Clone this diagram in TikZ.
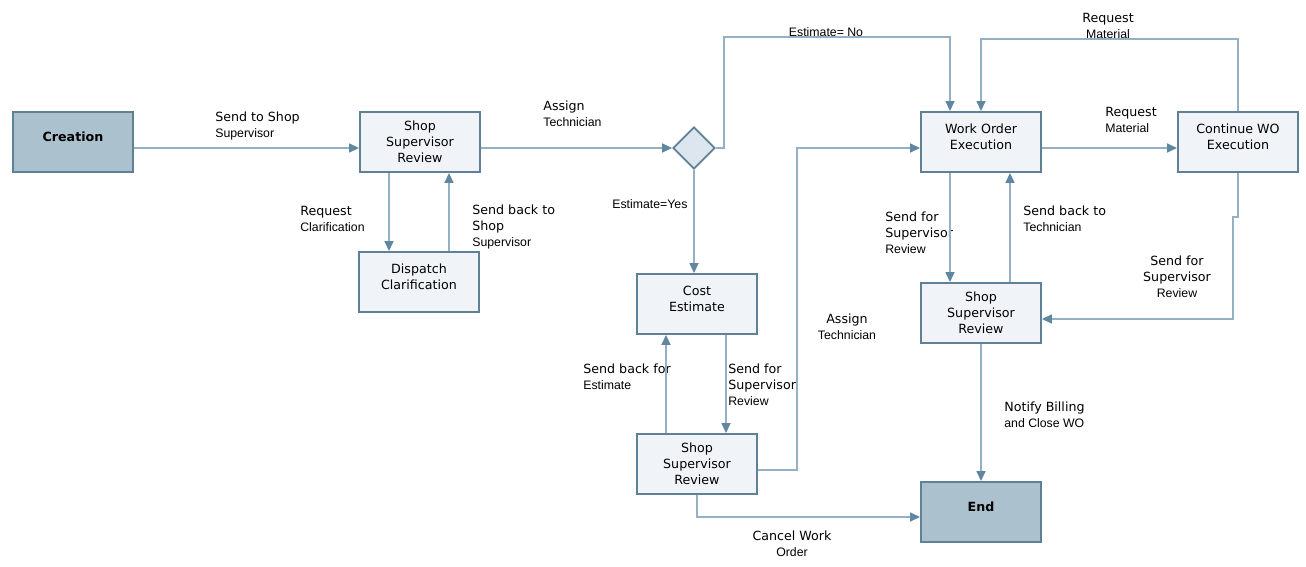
\documentclass[tikz,border=0pt]{standalone}
\usepackage{fontspec}
\setmainfont{DejaVu Sans}
\newfontfamily\arl{Liberation Sans}
\usetikzlibrary{shapes.geometric,arrows.meta,calc}
\definecolor{lineblue}{HTML}{94B0C2}
\definecolor{headblue}{HTML}{5F87A0}
\definecolor{boxedge}{HTML}{5E8195}
\definecolor{boxfill}{HTML}{F0F4F9}
\definecolor{termfill}{HTML}{ABC2CE}
\definecolor{decfill}{HTML}{DDE6EE}
\newcommand{\sm}[1]{{\arl\fontsize{7}{9}\selectfont #1}}

\tikzset{
	box/.style={draw=boxedge, line width=1.1pt, fill=boxfill, minimum width=2.4cm, minimum height=1.2cm, align=center, inner sep=1pt, font=\fontsize{7.2}{9}\selectfont},
	raised/.style={text depth=0.21cm},
	term/.style={box, raised, fill=termfill, font=\fontsize{7.2}{9}\selectfont\bfseries},
	decision/.style={diamond, draw=boxedge, line width=1pt, fill=decfill, minimum width=0.84cm, minimum height=0.84cm, inner sep=0pt},
	flow/.style={draw=lineblue, line width=0.9pt, -{Triangle[length=0.2cm, width=0.18cm, color=headblue]}},
	lbl/.style={align=left, inner sep=0pt, anchor=north west, font=\fontsize{7.2}{9}\selectfont},
	clbl/.style={lbl, align=center, anchor=north},
}

\begin{document}
\begin{tikzpicture}[x=0.02cm, y=-0.02cm]
		\useasboundingbox (0,0) rectangle (1306,567);
		\node[term] (creation) at (73,142) {Creation};
		\node[box] (ssra) at (420,142) {Shop\\Supervisor\\Review};
		\node[box, raised] (dispatch) at (419,282) {Dispatch\\Clarification};
		\node[decision] (dec) at (694,148) {};
		\node[box, raised] (cost) at (697,304) {Cost\\Estimate};
		\node[box] (ssrc) at (697,464) {Shop\\Supervisor\\Review};
		\node[box, raised] (woe) at (981,142) {Work Order\\Execution};
		\node[box, raised] (cont) at (1238,142) {Continue WO\\Execution};
		\node[box] (ssrb) at (981,313) {Shop\\Supervisor\\Review};
		\node[term] (finish) at (981,512) {End};

		\node[lbl] (l1) at (215,112) {Send to Shop\\\sm{Supervisor}};
		\node[lbl] (l2) at (300,206) {Request\\\sm{Clarification}};
		\node[lbl] (l3) at (472,205) {Send back to\\Shop\\\sm{Supervisor}};
		\node[lbl] (l4) at (543,101) {Assign\\\sm{Technician}};
		\node[clbl] (l5) at (826,27) {\sm{Estimate= No}};
		\node[lbl] (l6) at (612,199) {\sm{Estimate=Yes}};
		\node[lbl] (l7) at (583,364) {Send back for\\\sm{Estimate}};
		\node[lbl] (l8) at (728,364) {Send for\\Supervisor\\\sm{Review}};
		\node[clbl] (l9) at (847,314) {Assign\\\sm{Technician}};
		\node[clbl] (l10) at (792,531) {Cancel Work\\\sm{Order}};
		\node[clbl] (l11) at (1108,13) {Request\\\sm{Material}};
		\node[lbl] (l12) at (1105,107) {Request\\\sm{Material}};
		\node[lbl] (l13) at (885,212) {Send for\\Supervisor\\\sm{Review}};
		\node[lbl] (l14) at (1023,206) {Send back to\\\sm{Technician}};
		\node[clbl] (l15) at (1177,256) {Send for\\Supervisor\\\sm{Review}};
		\node[lbl] (l16) at (1004,402) {Notify Billing\\\sm{and Close WO}};

		\draw[flow] ($(creation.east)+(0,6)$) -- ($(ssra.west)+(0,6)$);
		\draw[flow] ($(ssra.south)+(-31,0)$) -- ($(dispatch.north)+(-30,0)$);
		\draw[flow] ($(dispatch.north)+(30,0)$) -- ($(ssra.south)+(29,0)$);
		\draw[flow] ($(ssra.east)+(0,6)$) -- (dec.west);
		\draw[flow] (dec.east) -- ++(8,0) |- ($(woe.north)+(-31,-74)$) -- ($(woe.north)+(-31,0)$);
		\draw[flow] (dec.south) -- (dec.south |- cost.north);
		\draw[flow] ($(cost.south)+(29,0)$) -- ($(ssrc.north)+(29,0)$);
		\draw[flow] ($(ssrc.north)+(-31,0)$) -- ($(cost.south)+(-31,0)$);
		\draw[flow] ($(ssrc.east)+(0,6)$) -- ++(39,0) |- ($(woe.west)+(0,6)$);
		\draw[flow] (ssrc.south) |- ($(finish.west)+(0,5)$);
		\draw[flow] ($(woe.east)+(0,6)$) -- ($(cont.west)+(0,6)$);
		\draw[flow] (cont.north) -- ++(0,-72) -| (woe.north);
		\draw[flow] (cont.south) -- ++(0,44) -- ++(-5,0) |- ($(ssrb.east)+(0,6)$);
		\draw[flow] ($(woe.south)+(-31,0)$) -- ($(ssrb.north)+(-31,0)$);
		\draw[flow] ($(ssrb.north)+(29,0)$) -- ($(woe.south)+(29,0)$);
		\draw[flow] (ssrb.south) -- (finish.north);
	\end{tikzpicture}
\end{document}
